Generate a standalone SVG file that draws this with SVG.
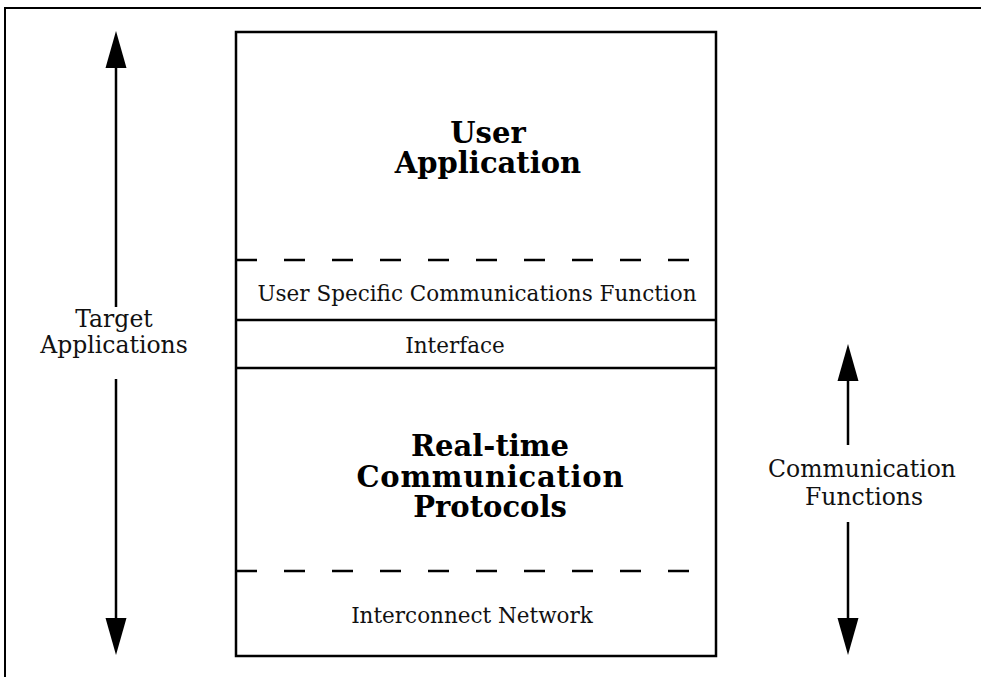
<svg xmlns="http://www.w3.org/2000/svg" width="981" height="677" viewBox="0 0 981 677">
  <style>
    .frame { fill: none; stroke: #000; stroke-width: 2; }
    .box { fill: #fff; stroke: #000; stroke-width: 2.5; }
    .rule { stroke: #000; stroke-width: 2.5; fill: none; }
    .dash { stroke: #000; stroke-width: 2.5; stroke-dasharray: 21 27; fill: none; }
    .conn { stroke: #000; stroke-width: 2.5; fill: none; marker-end: url(#head); }
    .lbl { font-family: "DejaVu Serif", "Liberation Serif", serif; font-size: 21.5px; fill: #111; text-anchor: middle; }
    .side { font-family: "DejaVu Serif", "Liberation Serif", serif; font-size: 23.5px; fill: #111; text-anchor: middle; }
    .title { font-family: "DejaVu Serif", "Liberation Serif", serif; font-size: 29px; font-weight: bold; fill: #000; text-anchor: middle; }
  </style>
  <defs>
    <marker id="head" markerUnits="userSpaceOnUse" markerWidth="37" markerHeight="21" refX="0" refY="10.5" orient="auto" overflow="visible">
      <path d="M0,0 L37,10.5 L0,21 z" fill="#000"/>
    </marker>
  </defs>
  <rect width="981" height="677" fill="#fff"/>

  <!-- page frame, open to the right and bottom -->
  <path class="frame" d="M5,677 V8 H981"/>

  <!-- protocol stack -->
  <g id="stack">
    <rect class="box" x="236" y="32" width="480" height="624"/>
  </g>

  <g id="user-application">
    <text class="title" x="488" y="143">User<tspan x="488" dy="30">Application</tspan></text>
    <line class="dash" x1="236" y1="260" x2="690" y2="260"/>
  </g>

  <g id="user-specific">
    <text class="lbl" x="477" y="301">User Specific Communications Function</text>
    <line class="rule" x1="236" y1="320" x2="716" y2="320"/>
  </g>

  <g id="interface">
    <text class="lbl" x="455" y="353">Interface</text>
    <line class="rule" x1="236" y1="368" x2="716" y2="368"/>
  </g>

  <g id="protocols">
    <text class="title" x="490" y="456">Real-time<tspan x="490" dy="31" textLength="267" lengthAdjust="spacing">Communication</tspan><tspan x="490" dy="30">Protocols</tspan></text>
    <line class="dash" x1="236" y1="571" x2="690" y2="571"/>
  </g>

  <g id="network">
    <text class="lbl" x="472" y="623">Interconnect Network</text>
  </g>

  <g id="target-applications">
    <text class="side" x="114" y="327">Target<tspan x="114" dy="26">Applications</tspan></text>
  </g>

  <g id="communication-functions">
    <text class="side" x="862" y="477">Communication<tspan x="864" dy="28">Functions</tspan></text>
  </g>

  <!-- span arrows -->
  <g id="connectors">
    <line class="conn" x1="116" y1="307" x2="116" y2="68"/>
    <line class="conn" x1="116" y1="379" x2="116" y2="618"/>
    <line class="conn" x1="848" y1="445" x2="848" y2="381"/>
    <line class="conn" x1="848" y1="522" x2="848" y2="618"/>
  </g>
</svg>
